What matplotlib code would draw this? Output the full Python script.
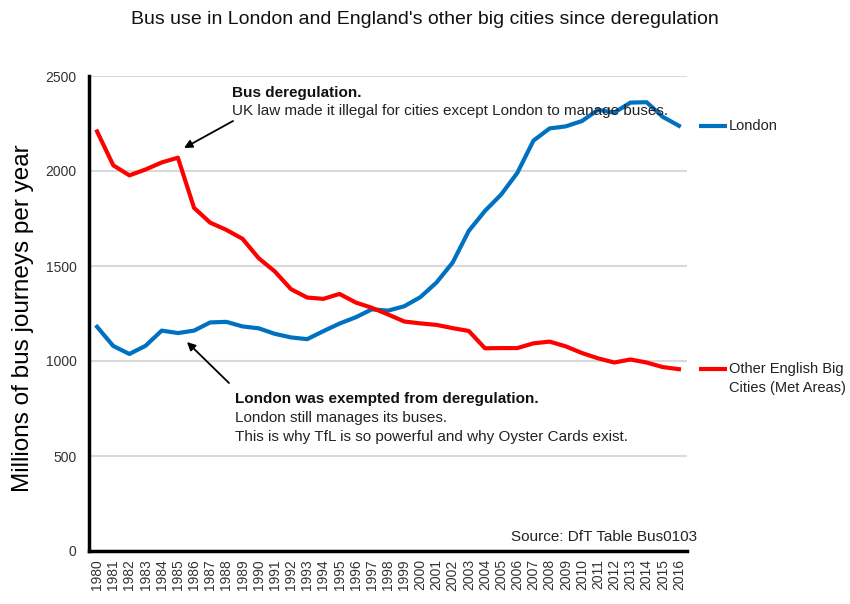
import matplotlib
matplotlib.use("Agg")
import matplotlib.pyplot as plt
import numpy as np

plt.rcParams['font.family'] = ['Liberation Sans', 'DejaVu Sans']

years = list(range(1980, 2017))
london = [1180, 1079, 1037, 1080, 1160, 1147, 1160, 1203, 1206, 1182, 1172, 1143,
          1124, 1115, 1157, 1197, 1230, 1272, 1265, 1288, 1336, 1413, 1518, 1685,
          1790, 1876, 1990, 2160, 2224, 2235, 2263, 2322, 2307, 2360, 2362, 2285, 2238]
met = [2208, 2030, 1977, 2008, 2045, 2070, 1806, 1728, 1690, 1643, 1541, 1471,
       1378, 1334, 1327, 1353, 1308, 1280, 1245, 1208, 1198, 1190, 1173, 1158,
       1067, 1068, 1068, 1093, 1102, 1077, 1042, 1014, 992, 1008, 992, 968, 957]
series_labels = ["London", "Other English Big\nCities (Met Areas)"]
yticks = [0, 500, 1000, 1500, 2000, 2500]

W, H = 850, 604
fig = plt.figure(figsize=(W / 100, H / 100), dpi=100)
ax = fig.add_axes([89 / W, 1 - 551 / H, (687 - 89) / W, (551 - 76) / H])

x = np.arange(len(years))
blue = '#0070C0'
red = '#FF0000'
ax.plot(x, london, color=blue, lw=3, solid_joinstyle='round', zorder=3)
ax.plot(x, met, color=red, lw=3, solid_joinstyle='round', zorder=3)

ax.set_xlim(-0.5, len(years) - 0.5)
ax.set_ylim(0, 2500)
ax.set_yticks(yticks)
ax.set_yticklabels([str(v) for v in yticks], fontsize=10, color='#333333')
ax.set_xticks(x)
ax.set_xticklabels([str(y) for y in years], rotation=90, fontsize=10, color='#333333')
ax.tick_params(axis='y', length=0, pad=9)
ax.tick_params(axis='x', length=0, pad=6)
ax.yaxis.grid(True, color='#d9d9d9', lw=1.5)
ax.set_axisbelow(True)
for s in ['top', 'right']:
    ax.spines[s].set_visible(False)
for s in ['left', 'bottom']:
    ax.spines[s].set_linewidth(2.5)
    ax.spines[s].set_color('black')

# labels at the right end of each line
n = len(years)
for vals, col, lab in [(london, blue, series_labels[0]), (met, red, series_labels[1])]:
    ax.plot([n + 0.25, n + 2.0], [vals[-1], vals[-1]], color=col, lw=3,
            solid_capstyle='butt', clip_on=False)
    lines = lab.split('\n')
    for i, ln in enumerate(lines):
        ax.text(n + 2.1, vals[-1] - i * 100, ln, fontsize=10.5, color='#222222',
                va='center', ha='left', clip_on=False)

fig.text(0.5, 1 - 20 / H, "Bus use in London and England's other big cities since deregulation",
         ha='center', va='center', fontsize=14, color='#111111')
fig.text(23 / W, 1 - 318 / H, "Millions of bus journeys per year", rotation=90,
         ha='center', va='center', fontsize=17.5, color='black')


def fp(px, py):
    return (px / W, 1 - py / H)


fig.text(*fp(232, 93), "Bus deregulation.", fontsize=11, fontweight='bold',
         va='center', ha='left', color='#111111')
fig.text(*fp(232, 111), "UK law made it illegal for cities except London to manage buses.",
         fontsize=11, va='center', ha='left', color='#222222')
fig.text(*fp(235, 399), "London was exempted from deregulation.", fontsize=11,
         fontweight='bold', va='center', ha='left', color='#111111')
fig.text(*fp(235, 418), "London still manages its buses.", fontsize=11,
         va='center', ha='left', color='#222222')
fig.text(*fp(235, 437), "This is why TfL is so powerful and why Oyster Cards exist.",
         fontsize=11, va='center', ha='left', color='#222222')
fig.text(*fp(697, 537), "Source: DfT Table Bus0103", fontsize=11, va='center',
         ha='right', color='#222222')

for tail, head in [((233, 121), (184, 148)), ((229, 383), (187, 342))]:
    ax.annotate('', xy=fp(*head), xytext=fp(*tail), xycoords='figure fraction',
                textcoords='figure fraction',
                arrowprops=dict(arrowstyle='-|>', color='black', lw=1.3,
                                mutation_scale=12, shrinkA=0, shrinkB=0))

fig.savefig('out.png', dpi=100, facecolor='white')
